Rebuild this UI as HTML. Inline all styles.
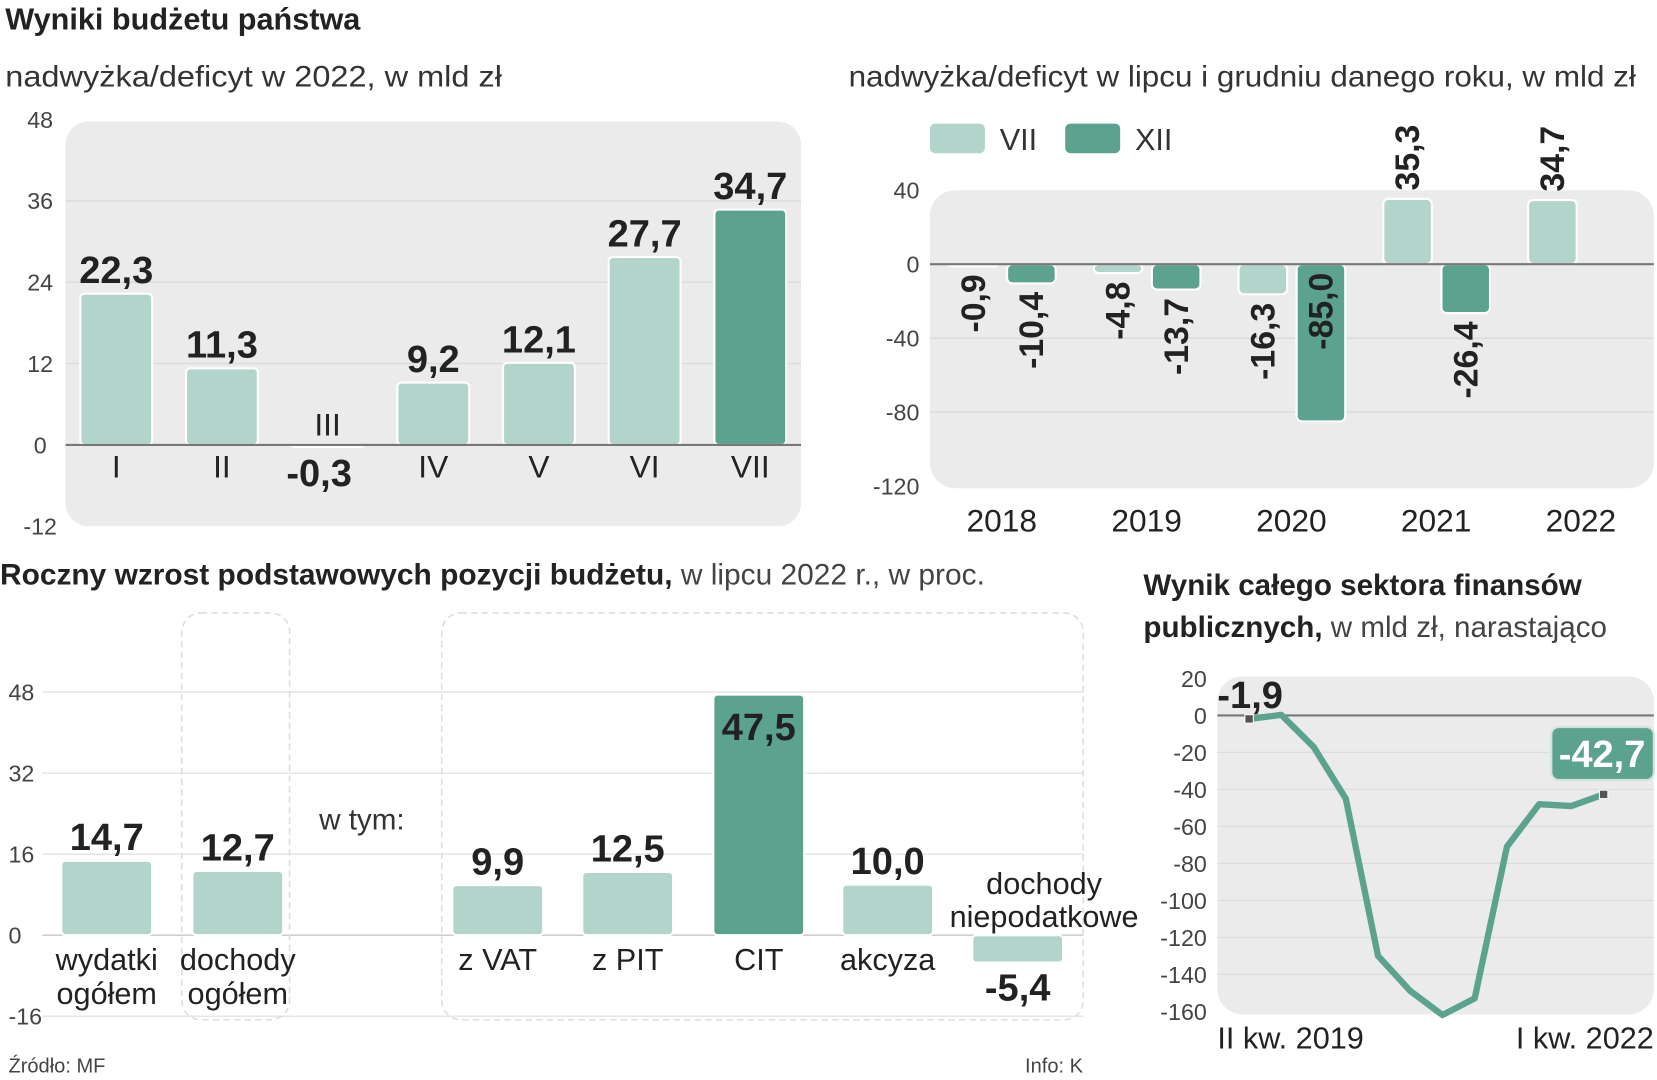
<!DOCTYPE html>
<html><head><meta charset="utf-8"><style>
html,body{margin:0;padding:0;background:#fff;}
svg{display:block;}
.t{font-family:"Liberation Sans",sans-serif;}
.n{font-family:"Liberation Sans Narrow","Liberation Sans",sans-serif;}
</style></head><body>
<svg id="s" width="1657" height="1080" viewBox="0 0 1568 1022" preserveAspectRatio="none" xmlns="http://www.w3.org/2000/svg">
<rect width="1568" height="1022" fill="#fff"/>
<text class="n" x="5" y="28" font-size="29" font-weight="bold" fill="#222">Wyniki budżetu państwa</text>
<text class="n" x="5" y="82" font-size="28" fill="#333" textLength="470" lengthAdjust="spacingAndGlyphs">nadwyżka/deficyt w 2022, w mld zł</text>
<text class="n" x="803" y="82" font-size="28" fill="#333" textLength="745" lengthAdjust="spacingAndGlyphs">nadwyżka/deficyt w lipcu i grudniu danego roku, w mld zł</text>
<text class="n" x="0" y="553" font-size="28" fill="#222" textLength="932" lengthAdjust="spacingAndGlyphs"><tspan font-weight="bold">Roczny wzrost podstawowych pozycji budżetu,</tspan><tspan fill="#444"> w lipcu 2022 r., w proc.</tspan></text>
<text class="n" x="1082" y="563" font-size="28" font-weight="bold" fill="#222">Wynik całego sektora finansów</text>
<text class="n" x="1082" y="603" font-size="28" fill="#222"><tspan font-weight="bold">publicznych,</tspan><tspan fill="#444"> w mld zł, narastająco</tspan></text>
<text class="t" x="8" y="1015" font-size="19" fill="#444">Źródło: MF</text>
<text class="t" x="970" y="1015" font-size="19" fill="#444">Info: K</text>
<g id="c1"></g><g id="c2"></g><g id="c3"></g><g id="c4"></g>
</svg>
<script>
// Chart 1
const c1Cats=["I","II","III","IV","V","VI","VII"];
const c1Vals=[22.3,11.3,-0.3,9.2,12.1,27.7,34.7];
const c1Ticks=[48,36,24,12,0,-12];
// Chart 2
const c2Years=["2018","2019","2020","2021","2022"];
const c2Jul=[-0.9,-4.8,-16.3,35.3,34.7];
const c2Dec=[-10.4,-13.7,-85.0,-26.4,null];
const c2Ticks=[40,0,-40,-80,-120];
// Chart 3
const c3Cats=[["wydatki","ogółem"],["dochody","ogółem"],["z VAT"],["z PIT"],["CIT"],["akcyza"],["dochody","niepodatkowe"]];
const c3Vals=[14.7,12.7,9.9,12.5,47.5,10.0,-5.4];
const c3Ticks=[48,32,16,0,-16];
// Chart 4
const c4Vals=[-1.9,0.3,-17,-45,-130,-149,-162,-153,-71,-48,-49,-42.7];
const c4Ticks=[20,0,-20,-40,-60,-80,-100,-120,-140,-160];
const c4XLabels=["II kw. 2019","I kw. 2022"];

const NS="http://www.w3.org/2000/svg";
const LIGHT="#b2d4ca",DARK="#5ba38f";
function mk(p,tag,a,txt){const e=document.createElementNS(NS,tag);for(const k in a)e.setAttribute(k,a[k]);if(txt!==undefined)e.textContent=txt;p.appendChild(e);return e;}
const fmt=v=>v.toFixed(1).replace('.',',');

// ---- Chart 1
(function(){
const g=document.getElementById('c1');
const y=v=>421-v*77/12, x=i=>110+i*100;
let e=mk(g,'rect',{x:62,y:115,width:696,height:383,rx:22,fill:'#ebebeb'});

c1Ticks.forEach(t=>{
 if(t!==0&&t!==48&&t!==-12){e=mk(g,'line',{x1:62,x2:758,y1:y(t),y2:y(t),stroke:'#dcdcdc','stroke-width':1.5});
 }
 e=mk(g,'text',{x:38,y:y(t)+8,'text-anchor':'middle','font-size':22,fill:'#444',class:'n'},String(t));
 
});
c1Vals.forEach((v,i)=>{
 const top=Math.min(y(v),y(0)),h=Math.abs(y(v)-y(0));
 e=mk(g,'rect',{x:x(i)-34,y:top,width:68,height:Math.max(h,1.5),rx:4,fill:i===6?DARK:LIGHT,stroke:'#fff','stroke-width':2});
 
 if(v>=0){
  e=mk(g,'text',{x:x(i),y:y(v)-10,'text-anchor':'middle','font-size':36,'font-weight':'bold',fill:'#222',class:'n'},fmt(v));
  
  e=mk(g,'text',{x:x(i),y:452,'text-anchor':'middle','font-size':30,fill:'#222',class:'n'},c1Cats[i]);
  
 } else {
  e=mk(g,'text',{x:x(i),y:412,'text-anchor':'middle','font-size':30,fill:'#222',class:'n'},c1Cats[i]);
  
  e=mk(g,'text',{x:x(i)-8,y:460,'text-anchor':'middle','font-size':36,'font-weight':'bold',fill:'#222',class:'n'},fmt(v));
  
 }
});
e=mk(g,'line',{x1:62,x2:758,y1:y(0),y2:y(0),stroke:'#777','stroke-width':2});

})();

// ---- Chart 2
(function(){
const g=document.getElementById('c2');
const y=v=>250-v*70/40, x=i=>948+i*137;
let e=mk(g,'rect',{x:880,y:180,width:685,height:282,rx:24,fill:'#ebebeb'});

e=mk(g,'rect',{x:880,y:117,width:52,height:28,rx:5,fill:LIGHT});

e=mk(g,'text',{x:946,y:142,'font-size':29,fill:'#333',class:'n'},'VII');

e=mk(g,'rect',{x:1008,y:117,width:52,height:28,rx:5,fill:DARK});

e=mk(g,'text',{x:1074,y:142,'font-size':29,fill:'#333',class:'n'},'XII');

c2Ticks.forEach(t=>{
 if(t===-40||t===-80){e=mk(g,'line',{x1:880,x2:1565,y1:y(t),y2:y(t),stroke:'#dcdcdc','stroke-width':1.5});
 }
 e=mk(g,'text',{x:870,y:y(t)+8,'text-anchor':'end','font-size':22,fill:'#444',class:'n'},String(t));
 
});
function bar(cx,v,col,nm){
 const top=Math.min(y(v),y(0)),h=Math.abs(y(v)-y(0));
 let e=mk(g,'rect',{x:cx-23,y:top,width:46,height:Math.max(h,2),rx:5,fill:col,stroke:'#fff','stroke-width':2});
 
 let ty,anchor;
 if(v>=0){ty=y(v)-8;anchor='start';}
 else if(h>90){ty=y(0)+8;anchor='end';}
 else {ty=y(v)+8;anchor='end';}
 e=mk(g,'text',{x:0,y:0,'text-anchor':anchor,'font-size':32,'font-weight':'bold',fill:'#222',class:'t',transform:`translate(${cx+11},${ty}) rotate(-90)`},fmt(v));
 
}
c2Years.forEach((yr,i)=>{
 if(c2Jul[i]!==null)bar(x(i)-27,c2Jul[i],LIGHT,'chart2-bar-vii-'+yr);
 if(c2Dec[i]!==null)bar(x(i)+28,c2Dec[i],DARK,'chart2-bar-xii-'+yr);
 e=mk(g,'text',{x:x(i),y:503,'text-anchor':'middle','font-size':30,fill:'#222',class:'n'},yr);
 
});
e=mk(g,'line',{x1:880,x2:1565,y1:y(0),y2:y(0),stroke:'#777','stroke-width':2});

})();

// ---- Chart 3
(function(){
const g=document.getElementById('c3');
const y=v=>885-v*76.7/16;
const xs=[101,225,471,594,718,840,963];
let e;
c3Ticks.forEach(t=>{
 e=mk(g,'line',{x1:40,x2:1025,y1:y(t),y2:y(t),stroke:t===0?'#cfcfcf':'#e6e6e6','stroke-width':1.5});
 
 e=mk(g,'text',{x:8,y:y(t)+8,'font-size':22,fill:'#444',class:'n'},String(t));
 
});
e=mk(g,'rect',{x:172,y:580,width:102,height:385,rx:18,fill:'none',stroke:'#ddd','stroke-dasharray':'6 4','stroke-width':1.5});

e=mk(g,'rect',{x:418,y:580,width:607,height:385,rx:18,fill:'none',stroke:'#ddd','stroke-dasharray':'6 4','stroke-width':1.5});

e=mk(g,'text',{x:302,y:785,'font-size':28,fill:'#333',class:'n'},'w tym:');

c3Vals.forEach((v,i)=>{
 const top=Math.min(y(v),y(0)),h=Math.abs(y(v)-y(0));
 e=mk(g,'rect',{x:xs[i]-43,y:top,width:86,height:h,rx:4,fill:i===4?DARK:LIGHT,stroke:'#fff','stroke-width':2});
 
 let ly;
 if(v>=0){ly=(i===4)?y(v)+43:y(v)-10;}else{ly=y(v)+36;}
 e=mk(g,'text',{x:xs[i],y:ly,'text-anchor':'middle','font-size':36,'font-weight':'bold',fill:'#222',class:'n'},fmt(v));
 
 const lines=c3Cats[i];
 lines.forEach((ln,k)=>{
  let cx=xs[i],cy;
  if(v>=0)cy=918+k*32;else{cx=xs[i]+25;cy=846+k*31;}
  e=mk(g,'text',{x:cx,y:cy,'text-anchor':'middle','font-size':29,fill:'#222',class:'n'},ln);
  
 });
});
})();

// ---- Chart 4
(function(){
const g=document.getElementById('c4');
const y=v=>677-v*35/20, x=i=>1182+i*30.5;
let e=mk(g,'rect',{x:1152,y:640,width:413,height:320,rx:24,fill:'#ebebeb'});

c4Ticks.forEach(t=>{
 if(t<0&&t>-160){e=mk(g,'line',{x1:1152,x2:1565,y1:y(t),y2:y(t),stroke:'#dcdcdc','stroke-width':1.2});
 }
 e=mk(g,'text',{x:1142,y:y(t)+8,'text-anchor':'end','font-size':22,fill:'#444',class:'n'},String(t));
 
});
e=mk(g,'line',{x1:1152,x2:1565,y1:y(0),y2:y(0),stroke:'#777','stroke-width':2});

const pts=c4Vals.map((v,i)=>x(i)+','+y(v)).join(' ');
e=mk(g,'polyline',{points:pts,fill:'none',stroke:DARK,'stroke-width':6,'stroke-linejoin':'round'});

[0,c4Vals.length-1].forEach(i=>{
 e=mk(g,'rect',{x:x(i)-4,y:y(c4Vals[i])-4,width:8,height:8,fill:'#555',stroke:'#fff','stroke-width':1});
 
});
e=mk(g,'text',{x:1152,y:670,'font-size':36,'font-weight':'bold',fill:'#222',class:'n'},fmt(c4Vals[0]));

e=mk(g,'rect',{x:1468,y:688,width:97,height:50,rx:7,fill:DARK,stroke:'#cfe3dc','stroke-width':2});

e=mk(g,'text',{x:1516,y:726,'text-anchor':'middle','font-size':36,'font-weight':'bold',fill:'#fff',class:'n'},fmt(c4Vals[c4Vals.length-1]));

e=mk(g,'text',{x:1152,y:992,'font-size':29,fill:'#222',class:'n'},c4XLabels[0]);

e=mk(g,'text',{x:1565,y:992,'text-anchor':'end','font-size':29,fill:'#222',class:'n'},c4XLabels[1]);

})();
</script>
</body></html>
